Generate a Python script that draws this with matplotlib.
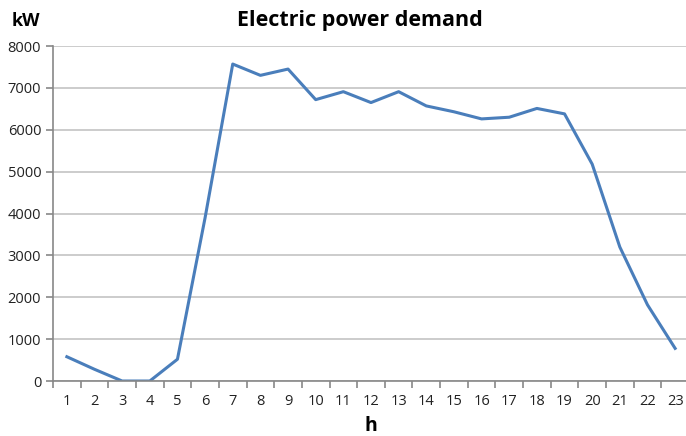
import matplotlib.pyplot as plt
import numpy as np

hours = list(range(1, 24))
demand_kw = [580, 280, 0, 0, 520, 3900, 7570, 7300, 7450, 6720, 6910, 6650, 6910,
             6570, 6430, 6260, 6300, 6510, 6380, 5180, 3200, 1820, 780]
y_ticks = [0, 1000, 2000, 3000, 4000, 5000, 6000, 7000, 8000]

plt.rcParams['font.family'] = ['Open Sans', 'DejaVu Sans']

fig = plt.figure(figsize=(6.86, 4.36), dpi=100)
ax = fig.add_axes([0.0773, 0.1261, 0.927, 0.7683])

ax.plot(hours, demand_kw, color='#4a7ebb', linewidth=2.2, solid_joinstyle='round')

ax.set_xlim(0.5, 23.5)
ax.set_ylim(0, 8000)
ax.set_yticks(y_ticks)
ax.yaxis.grid(True, color='#c4c4c4', linewidth=1.2)
ax.set_axisbelow(True)

# category axis: ticks between categories, labels centred
ax.set_xticks(np.arange(0.5, 24, 1))
ax.set_xticklabels([])
ax.set_xticks(hours, minor=True)
ax.set_xticklabels([str(h) for h in hours], minor=True)
ax.tick_params(axis='x', which='minor', length=0, pad=9, labelsize=10.5, labelcolor='#222222')
ax.tick_params(axis='x', which='major', length=5, color='#888888', width=1.2)
ax.tick_params(axis='y', length=5, color='#888888', width=1.2, labelsize=10.5, labelcolor='#222222')

for s in ['top', 'right']:
    ax.spines[s].set_visible(False)
for s in ['left', 'bottom']:
    ax.spines[s].set_color('#888888')
    ax.spines[s].set_linewidth(1.2)

fig.text(0.524, 0.952, 'Electric power demand', ha='center', va='center',
         fontsize=15.5, fontweight='bold')
fig.text(0.038, 0.952, 'kW', ha='center', va='center', fontsize=13, fontweight='bold')
fig.text(0.54, 0.022, 'h', ha='center', va='center', fontsize=14, fontweight='bold')

plt.savefig('out.png', dpi=100)
